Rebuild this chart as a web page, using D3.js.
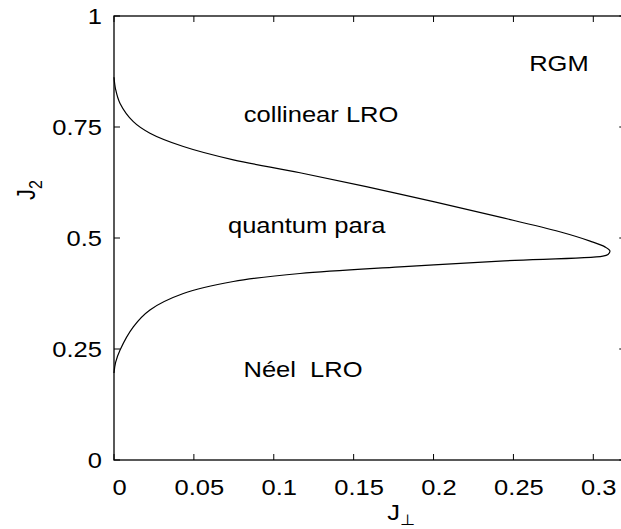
<!DOCTYPE html>
<html>
<head>
<meta charset="utf-8">
<script src="https://cdn.jsdelivr.net/npm/d3@7"></script>
<style>
  html, body { margin: 0; padding: 0; background: #fff; }
  svg { display: block; }
  text { font-family: "Liberation Sans", Arial, Helvetica, sans-serif; fill: #000; }
</style>
</head>
<body>
<svg id="chart" width="621" height="529"></svg>
<script>
// Phase boundary traced from top (J⊥=0, J2≈0.86) round the tip and back to (0, ≈0.20)
const boundaryJperp = [0, 0.001, 0.0038, 0.0121, 0.0225, 0.0434, 0.0747, 0.1164, 0.179, 0.2416, 0.279, 0.298, 0.3073, 0.3104, 0.3092, 0.306, 0.2416, 0.179, 0.1164, 0.0747, 0.0434, 0.0225, 0.0121, 0.0038, 0.001, 0];
const boundaryJ2    = [0.862, 0.835, 0.803, 0.762, 0.736, 0.706, 0.676, 0.647, 0.599, 0.547, 0.514, 0.493, 0.480, 0.471, 0.463, 0.459, 0.448, 0.435, 0.420, 0.402, 0.375, 0.338, 0.300, 0.248, 0.220, 0.196];

const xTicks = [0, 0.05, 0.1, 0.15, 0.2, 0.25, 0.3];
const xTickLabels = ["0", "0.05", "0.1", "0.15", "0.2", "0.25", "0.3"];
const yTicks = [0, 0.25, 0.5, 0.75, 1];
const yTickLabels = ["0", "0.25", "0.5", "0.75", "1"];

const regionNames = ["RGM", "collinear LRO", "quantum para", "Néel  LRO"];
const regionJperp = [0.2785, 0.1296, 0.1206, 0.1183];
const regionJ2    = [0.877, 0.762, 0.511, 0.1876];

(function () {
const svg = d3.select("#chart");
const mLeft = 114, mTop = 16, mBottom = 460;
const x = d3.scaleLinear().domain([0, 0.32]).range([mLeft, mLeft + 0.32 * 1597.7]);
const y = d3.scaleLinear().domain([0, 1]).range([mBottom, mTop]);
const xr = x.range()[1];
const sx = 1.16; // horizontal stretch of the original text
const fs = 22;
const tickLen = 6;

// frame
svg.append("rect")
  .attr("x", mLeft).attr("y", mTop)
  .attr("width", xr - mLeft).attr("height", mBottom - mTop)
  .attr("fill", "none").attr("stroke", "#000").attr("stroke-width", 1.3);

// ticks (inward, all four sides)
const tickG = svg.append("g").attr("stroke", "#000").attr("stroke-width", 1);
xTicks.forEach(t => {
  tickG.append("line").attr("x1", x(t)).attr("x2", x(t)).attr("y1", mBottom).attr("y2", mBottom - tickLen);
  tickG.append("line").attr("x1", x(t)).attr("x2", x(t)).attr("y1", mTop).attr("y2", mTop + tickLen);
});
yTicks.forEach(t => {
  tickG.append("line").attr("x1", mLeft).attr("x2", mLeft + tickLen).attr("y1", y(t)).attr("y2", y(t));
  tickG.append("line").attr("x1", xr).attr("x2", xr - tickLen).attr("y1", y(t)).attr("y2", y(t));
});

// tick labels
xTicks.forEach((t, i) => {
  svg.append("text")
    .attr("transform", `translate(${x(t) + 5.5},495) scale(${sx},1)`)
    .attr("text-anchor", "middle")
    .attr("font-size", fs)
    .text(xTickLabels[i]);
});
yTicks.forEach((t, i) => {
  svg.append("text")
    .attr("transform", `translate(102,${y(t)}) scale(${sx},1)`)
    .attr("text-anchor", "end")
    .attr("dominant-baseline", "central")
    .attr("font-size", fs)
    .text(yTickLabels[i]);
});

// axis titles
const xt = svg.append("text")
  .attr("transform", `translate(401,520) scale(${sx},1)`)
  .attr("text-anchor", "middle")
  .attr("font-size", fs);
xt.append("tspan").text("J");
xt.append("tspan").attr("font-size", 15).attr("dy", 5).text("⊥");

const yt = svg.append("text")
  .attr("transform", `translate(35,190) rotate(-90) scale(1,${sx})`)
  .attr("text-anchor", "middle")
  .attr("font-size", fs);
yt.append("tspan").text("J");
yt.append("tspan").attr("font-size", 16).attr("dy", 6).text("2");

// boundary curve
const pts = boundaryJperp.map((v, i) => [v, boundaryJ2[i]]);
const line = d3.line().x(d => x(d[0])).y(d => y(d[1])).curve(d3.curveCatmullRom.alpha(0.5));
svg.append("path")
  .attr("d", line(pts))
  .attr("fill", "none").attr("stroke", "#000").attr("stroke-width", 1.2);

// region labels
regionNames.forEach((n, i) => {
  svg.append("text")
    .attr("transform", `translate(${x(regionJperp[i])},${y(regionJ2[i])}) scale(${sx},1)`)
    .attr("text-anchor", "middle")
    .attr("font-size", fs)
    .attr("xml:space", "preserve")
    .style("white-space", "pre")
    .text(n);
});
})();
</script>
</body>
</html>
